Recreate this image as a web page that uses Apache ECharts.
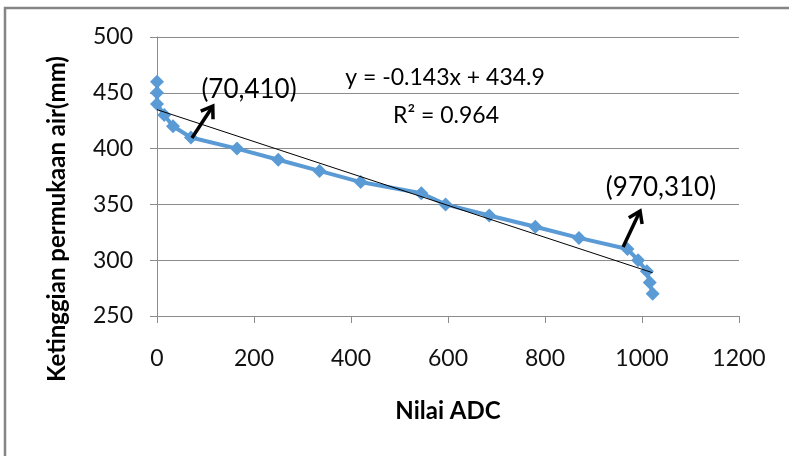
<!DOCTYPE html>
<html>
<head>
    <meta charset="utf-8">
    <title>Nilai ADC</title>
    <script src="https://cdn.jsdelivr.net/npm/echarts@6/dist/echarts.min.js"></script>
    <style>
        html, body { margin: 0; padding: 0; background: #fff; }
    </style>
</head>
<body>
    <div id="main" style="width:789px; height:456px"></div>
    <script type="text/javascript">
        // data
        var adc = [0, 0, 0, 15, 33, 70, 165, 250, 335, 420, 545, 595, 685, 780, 870, 970, 992, 1010, 1016, 1022];
        var tinggi = [460, 450, 440, 430, 420, 410, 400, 390, 380, 370, 360, 350, 340, 330, 320, 310, 300, 290, 280, 270];
        var xTicks = [0, 200, 400, 600, 800, 1000, 1200];
        var yTicks = [250, 300, 350, 400, 450, 500];
        // trendline y = -0.143x + 434.9
        var slope = -0.143;
        var intercept = 434.9;
        var eqText = 'y = -0.143x + 434.9';
        var r2Text = 'R² = 0.964';
        // annotation arrows: [from, to] in data units
        var arrows = [
            [[72, 409.5], [115, 438]],
            [[961, 311.8], [996, 344]]
        ];
        var notes = ['(70,410)', '(970,310)'];

        var font = 'Lato';
        var gridCol = '#8c8c8c';

        var pts = [];
        for (var i = 0; i < adc.length; i++) {
            pts.push([adc[i], tinggi[i]]);
        }
        var xEnd = Math.max.apply(null, adc);
        var trend = [[0, intercept], [xEnd, slope * xEnd + intercept]];

        function plain(v) { return String(v); }

        var chart = echarts.init(document.getElementById('main'));
        var option = {
            animation: false,
            textStyle: { fontFamily: font },
            grid: { left: 157, right: 50, top: 37, bottom: 140 },
            xAxis: {
                type: 'value',
                min: xTicks[0],
                max: xTicks[xTicks.length - 1],
                interval: xTicks[1] - xTicks[0],
                axisLine: { show: true, lineStyle: { color: gridCol, width: 1 } },
                axisTick: { show: true, length: 7, lineStyle: { color: gridCol } },
                splitLine: { show: false },
                axisLabel: { color: '#111', fontSize: 23, fontFamily: font, margin: 31, formatter: plain }
            },
            yAxis: {
                type: 'value',
                min: yTicks[0],
                max: yTicks[yTicks.length - 1],
                interval: yTicks[1] - yTicks[0],
                axisLine: { show: true, lineStyle: { color: gridCol, width: 1 } },
                axisTick: { show: true, length: 7, lineStyle: { color: gridCol } },
                splitLine: { show: true, lineStyle: { color: gridCol, width: 1 } },
                axisLabel: { color: '#111', fontSize: 23, fontFamily: font, margin: 24, formatter: plain }
            },
            series: [
                {
                    type: 'line',
                    data: pts,
                    symbol: 'diamond',
                    symbolSize: 14,
                    showAllSymbol: true,
                    lineStyle: { color: '#5B9BD5', width: 4 },
                    itemStyle: { color: '#5B9BD5' },
                    z: 2
                },
                {
                    type: 'line',
                    data: trend,
                    symbol: 'none',
                    lineStyle: { color: '#000', width: 1 },
                    z: 3
                }
            ]
        };
        chart.setOption(option);

        // frame, titles and annotations
        var g = [
            {
                type: 'rect',
                shape: { x: 5, y: 8, width: 800, height: 460 },
                style: { fill: 'none', stroke: '#858585', lineWidth: 2.5 },
                silent: true
            },
            {
                type: 'text',
                x: 57, y: 219,
                rotation: Math.PI / 2,
                style: {
                    text: 'Ketinggian permukaan air(mm)',
                    font: 'bold 24px ' + font,
                    fill: '#000',
                    align: 'center',
                    verticalAlign: 'middle'
                }
            },
            {
                type: 'text',
                x: 448, y: 411,
                style: {
                    text: 'Nilai ADC',
                    font: 'bold 24px ' + font,
                    fill: '#000',
                    align: 'center',
                    verticalAlign: 'middle'
                }
            },
            {
                type: 'text',
                x: 445, y: 78,
                style: { text: eqText, font: '23px ' + font, fill: '#000', align: 'center', verticalAlign: 'middle' }
            },
            {
                type: 'text',
                x: 446, y: 116,
                style: { text: r2Text, font: '23px ' + font, fill: '#000', align: 'center', verticalAlign: 'middle' }
            },
            {
                type: 'text',
                x: 249, y: 90,
                style: { text: notes[0], font: '26px ' + font, fill: '#000', align: 'center', verticalAlign: 'middle' }
            },
            {
                type: 'text',
                x: 661, y: 188,
                style: { text: notes[1], font: '26px ' + font, fill: '#000', align: 'center', verticalAlign: 'middle' }
            }
        ];

        for (var k = 0; k < arrows.length; k++) {
            var a = chart.convertToPixel({ gridIndex: 0 }, arrows[k][0]);
            var b = chart.convertToPixel({ gridIndex: 0 }, arrows[k][1]);
            var ang = Math.atan2(b[1] - a[1], b[0] - a[0]);
            var len = 13, spread = 0.6;
            var p1 = [b[0] - len * Math.cos(ang - spread), b[1] - len * Math.sin(ang - spread)];
            var p2 = [b[0] - len * Math.cos(ang + spread), b[1] - len * Math.sin(ang + spread)];
            g.push({
                type: 'line',
                shape: { x1: a[0], y1: a[1], x2: b[0], y2: b[1] },
                style: { stroke: '#000', lineWidth: 3.5 },
                z: 10
            });
            g.push({
                type: 'polyline',
                shape: { points: [p1, b, p2] },
                style: { stroke: '#000', lineWidth: 3.5, fill: 'none' },
                z: 10
            });
        }
        chart.setOption({ graphic: g });
    </script>
</body>
</html>
